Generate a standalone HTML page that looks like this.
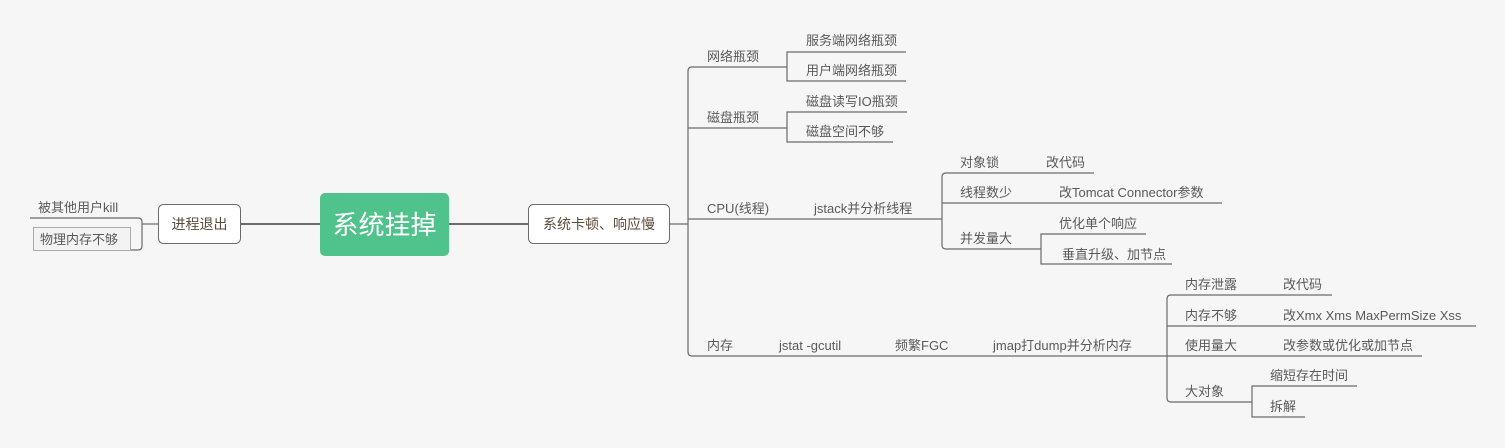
<!DOCTYPE html>
<html><head><meta charset="utf-8"><style>
html,body{margin:0;padding:0;background:#f6f6f6;}
svg{display:block}
text{font-family:"Liberation Sans","Noto Sans CJK SC",sans-serif;font-size:13px;fill:#595959;}
</style></head><body>
<svg width="1505" height="448" viewBox="0 0 1505 448">
<g fill="none" stroke="#6b6b6b" stroke-width="1.2">
<line x1="241" y1="224" x2="320" y2="224" stroke-width="2"/>
<line x1="142" y1="224" x2="158" y2="224"/>
<path d="M30 218 H138 Q142 218 142 222 V246 Q142 250 138 250 H33"/>
<line x1="449" y1="224" x2="528" y2="224" stroke-width="2"/>
<line x1="670" y1="224" x2="688" y2="224"/>
<path d="M787 67 H692 Q688 67 688 71 V352 Q688 356 692 356 H1167"/>
<line x1="688" y1="128" x2="787" y2="128"/>
<line x1="688" y1="219" x2="942" y2="219"/>
<path d="M906 52 H787 V81 H906"/>
<path d="M907 112 H787 V142 H893"/>
<path d="M1094 173 H946 Q942 173 942 177 V245 Q942 249 946 249 H1041"/>
<line x1="942" y1="203" x2="1222" y2="203"/>
<path d="M1146 234 H1041 V264 H1172"/>
<path d="M1332 295 H1171 Q1167 295 1167 299 V398 Q1167 402 1171 402 H1252"/>
<line x1="1167" y1="326" x2="1476" y2="326"/>
<line x1="1167" y1="356" x2="1422" y2="356"/>
<path d="M1357 386 H1252 V417 H1305"/>
</g>
<rect x="320" y="193" width="129" height="63" rx="5" fill="#4fc38b"/>
<text x="384.5" y="234" text-anchor="middle" style="font-size:26px;fill:#fff">系统挂掉</text>
<rect x="158.5" y="204.5" width="82" height="39" rx="5" fill="#fff" stroke="#6b6b6b"/>
<text x="199.5" y="229" text-anchor="middle" style="font-size:14px;fill:#5a4a3a">进程退出</text>
<rect x="528.5" y="204.5" width="141" height="39" rx="5" fill="#fff" stroke="#6b6b6b"/>
<text x="599" y="229" text-anchor="middle" style="font-size:14px;fill:#5a4a3a">系统卡顿、响应慢</text>
<rect x="33.5" y="227.5" width="97" height="23" fill="#f3f3f3" stroke="#aaa"/>
<text x="40" y="244">物理内存不够</text>
<text x="38" y="212">被其他用户kill</text>
<text x="707" y="61">网络瓶颈</text>
<text x="806" y="45">服务端网络瓶颈</text>
<text x="806" y="75">用户端网络瓶颈</text>
<text x="707" y="122">磁盘瓶颈</text>
<text x="806" y="106">磁盘读写IO瓶颈</text>
<text x="806" y="136">磁盘空间不够</text>
<text x="707" y="213">CPU(线程)</text>
<text x="814" y="213">jstack并分析线程</text>
<text x="960" y="167">对象锁</text>
<text x="1046" y="167">改代码</text>
<text x="960" y="197">线程数少</text>
<text x="1059" y="197">改Tomcat Connector参数</text>
<text x="960" y="243">并发量大</text>
<text x="1059" y="228">优化单个响应</text>
<text x="1062" y="259">垂直升级、加节点</text>
<text x="707" y="350">内存</text>
<text x="779" y="350">jstat -gcutil</text>
<text x="895" y="350">频繁FGC</text>
<text x="993" y="350">jmap打dump并分析内存</text>
<text x="1185" y="289">内存泄露</text>
<text x="1283" y="289">改代码</text>
<text x="1185" y="320">内存不够</text>
<text x="1283" y="320">改Xmx Xms MaxPermSize Xss</text>
<text x="1185" y="350">使用量大</text>
<text x="1283" y="350">改参数或优化或加节点</text>
<text x="1185" y="396">大对象</text>
<text x="1270" y="380">缩短存在时间</text>
<text x="1270" y="411">拆解</text>
</svg>
</body></html>
